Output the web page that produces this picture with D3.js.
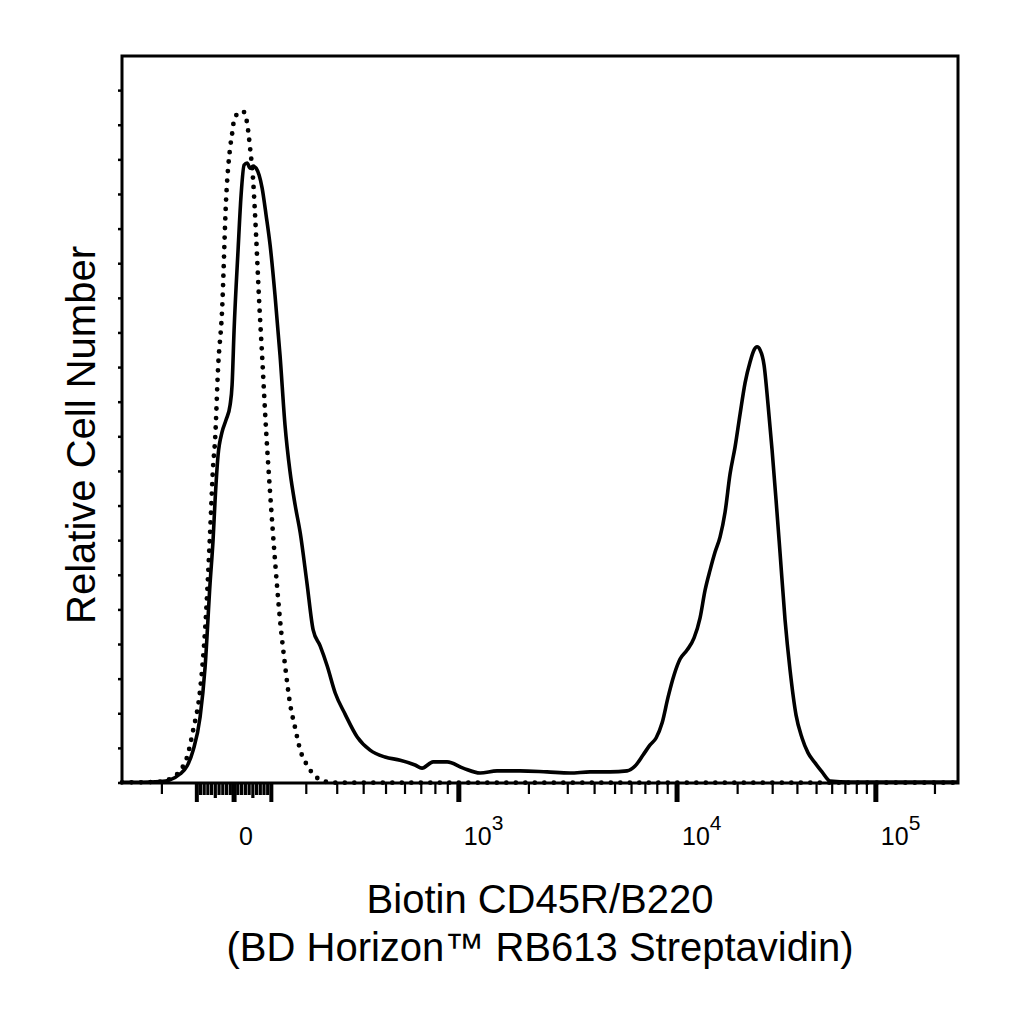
<!DOCTYPE html>
<html>
<head>
<meta charset="utf-8">
<script src="https://cdn.jsdelivr.net/npm/d3@7"></script>
<style>
  body { margin: 0; background: #fff; }
  svg { display: block; }
</style>
</head>
<body>
<div id="chart"></div>
<script>
// fluorescence values (channel)
const channel = [-332, -269, -205, -176, -147, -127, -110, -91, -77.5, -64, -56, -50.6, -42.6, -31.9, -21.3, -10.6, -5.3,
  0, 10.6, 18.6, 26.6, 34.6, 42.6, 50.6, 58.6, 66.7, 74.8, 85.6, 96.6, 110, 124, 138, 152, 167, 182, 202, 221, 243, 266,
  293, 328, 374, 427, 495, 573, 660, 705, 783, 894, 1042, 1228, 1451, 1828, 2413, 3074, 3808, 4735, 5710, 6240, 6821,
  7377, 7892, 8442, 9033, 9667, 10347, 11203, 12134, 12994, 13759, 14569, 15429, 16341, 17310, 18331, 19421, 20573,
  21793, 23090, 24183, 25041, 25925, 27154, 28441, 29790, 31202, 32688, 34638, 36715, 39366, 42211, 45266, 49115,
  53288, 58503, 73921, 132915, 262144];

// stained sample (solid line)
const stained = [0.2, 0.2, 0.4, 0.9, 2.6, 4.9, 9.5, 19.1, 33.5, 57.8, 70.2, 81.7, 94.7, 101.4, 104.9, 109.2, 115.0,
  130.8, 154.0, 169.8, 178.5, 179.1, 177.6, 178.2, 177.6, 175.6, 171.9, 164.1, 155.4, 141.0, 123.6, 103.4, 90.1, 80.3,
  72.2, 57.8, 44.2, 39.6, 33.8, 26.0, 19.9, 13.3, 9.5, 7.5, 6.6, 5.2, 4.3, 6.1, 6.1, 4.3, 2.9, 3.5, 3.5, 3.2, 2.9, 3.2,
  3.2, 3.5, 4.9, 8.1, 11.0, 13.0, 17.3, 24.8, 31.2, 35.8, 38.4, 41.9, 47.7, 55.7, 61.5, 66.7, 71.1, 78.3, 89.3, 97.1,
  106.6, 115.6, 121.6, 125.1, 126.0, 125.1, 120.7, 109.2, 96.2, 81.7, 66.4, 47.1, 32.6, 19.6, 13.0, 8.7, 5.8, 3.2,
  0.6, 0.3, 0.3, 0.3];

// isotype / unstained control (dotted line)
const control = [0.2, 0.2, 0.4, 1.2, 3.5, 7.5, 15.3, 26.9, 44.2, 72.2, 91.3, 99.1, 119.9, 136.6, 168.4, 183.4, 187.5,
  191.5, 193.5, 194.1, 193.8, 190.6, 183.4, 174.2, 158.3, 139.5, 123.6, 102.0, 83.8, 64.4, 47.1, 34.1, 23.1, 15.9,
  9.5, 5.2, 2.6, 0.9, 0.3, 0.1, 0.1, 0.1, 0.1, 0.1, 0.1, 0.1, 0.1, 0.1, 0.1, 0.1, 0.1, 0.1, 0.1, 0.1, 0.1, 0.1, 0.1,
  0.1, 0.1, 0.1, 0.1, 0.1, 0.1, 0.1, 0.1, 0.1, 0.1, 0.1, 0.1, 0.1, 0.1, 0.1, 0.1, 0.1, 0.1, 0.1, 0.1, 0.1, 0.1, 0.1,
  0.1, 0.1, 0.1, 0.1, 0.1, 0.1, 0.1, 0.1, 0.1, 0.1, 0.1, 0.1, 0.1, 0.1, 0.1, 0.1, 0.1, 0.1];

// axis ticks
const majorTicks = [0, 1000, 10000, 100000];
const majorLabels = [["0", ""], ["10", "3"], ["10", "4"], ["10", "5"]];
const midTicks = [-100, 100];
const nearZeroTicks = [-90, -80, -70, -60, -50, -40, -30, -20, -10, 10, 20, 30, 40, 50, 60, 70, 80, 90];
const smallTicks = [-200, 200, 300, 400, 500, 600, 700, 800, 900,
  2000, 3000, 4000, 5000, 6000, 7000, 8000, 9000,
  20000, 30000, 40000, 50000, 60000, 70000, 80000, 90000, 200000];
const yTicks = [0, 10, 20, 30, 40, 50, 60, 70, 80, 90, 100, 110, 120, 130, 140, 150, 160, 170, 180, 190, 200];

const xLabel1 = "Biotin CD45R/B220";
const xLabel2 = "(BD Horizon\u2122 RB613 Streptavidin)";
const yLabel = "Relative Cell Number";

// ---- logicle (biexponential) display transform
const T = 262144, M = 4.5, W = 0.8;
const xMin = -332, xMax = T;
const wN = W * Math.LN10, mN = M * Math.LN10;
let plo = 1.0001, phi = 50;
for (let i = 0; i < 80; i++) {
  let mid = (plo + phi) / 2;
  if (2 * mid * Math.log(mid) / (mid + 1) < wN) plo = mid; else phi = mid;
}
const p = (plo + phi) / 2;
const K = T * Math.exp(-(mN - wN));
function S(u) {
  if (u < 0) return -S(-u);
  return K * (Math.exp(u) - p * p * Math.exp(-u / p) + p * p - 1);
}
function logicle(v) {
  let a = -12, b = 15;
  for (let i = 0; i < 90; i++) {
    let mid = (a + b) / 2;
    if (S(mid) < v) a = mid; else b = mid;
  }
  return (a + b) / 2 / Math.LN10;
}

const width = 1024, height = 1024;
const margin = {left: 122, right: 66, top: 56, bottom: 241};

const xScale = d3.scaleLinear()
  .domain([logicle(xMin), logicle(xMax)])
  .range([margin.left, width - margin.right]);
const X = v => xScale(logicle(v));

const yScale = d3.scaleLinear()
  .domain([0, 210])
  .range([height - margin.bottom, margin.top]);

const svg = d3.select("#chart").append("svg")
  .attr("width", width)
  .attr("height", height)
  .style("font-family", "'Liberation Sans', Arial, sans-serif");

const y0 = yScale(0);

const linegen = d3.line()
  .x((d, i) => X(channel[i]))
  .y(d => yScale(d))
  .curve(d3.curveMonotoneX);

// control, dotted
svg.append("path")
  .attr("d", linegen(control))
  .attr("fill", "none")
  .attr("stroke", "#000")
  .attr("stroke-width", 4.8)
  .attr("stroke-linecap", "round")
  .attr("stroke-dasharray", "0 9.5");

// stained, solid
svg.append("path")
  .attr("d", linegen(stained))
  .attr("fill", "none")
  .attr("stroke", "#000")
  .attr("stroke-width", 3.6)
  .attr("stroke-linejoin", "round");

// frame
svg.append("rect")
  .attr("x", margin.left)
  .attr("y", margin.top)
  .attr("width", width - margin.left - margin.right)
  .attr("height", height - margin.top - margin.bottom)
  .attr("fill", "none")
  .attr("stroke", "#000")
  .attr("stroke-width", 3);

// y ticks (no labels)
svg.append("g").selectAll("line").data(yTicks).join("line")
  .attr("x1", margin.left - 4).attr("x2", margin.left)
  .attr("y1", d => yScale(d)).attr("y2", d => yScale(d))
  .attr("stroke", "#000").attr("stroke-width", 2.5);

// x ticks
const xt = svg.append("g");
xt.selectAll(".small").data(smallTicks).join("line")
  .attr("x1", d => X(d)).attr("x2", d => X(d))
  .attr("y1", y0).attr("y2", y0 + 11)
  .attr("stroke", "#000").attr("stroke-width", 2.2);
xt.selectAll(".zero").data(nearZeroTicks).join("line")
  .attr("x1", d => X(d)).attr("x2", d => X(d))
  .attr("y1", y0).attr("y2", d => y0 + (Math.abs(d) === 50 ? 15 : 12))
  .attr("stroke", "#000").attr("stroke-width", 3.2);
xt.selectAll(".mid").data(midTicks).join("line")
  .attr("x1", d => X(d)).attr("x2", d => X(d))
  .attr("y1", y0).attr("y2", y0 + 19)
  .attr("stroke", "#000").attr("stroke-width", 4);
xt.selectAll(".major").data(majorTicks).join("line")
  .attr("x1", d => X(d)).attr("x2", d => X(d))
  .attr("y1", y0).attr("y2", y0 + 19)
  .attr("stroke", "#000").attr("stroke-width", 5);

// x tick labels
majorTicks.forEach((v, i) => {
  const t = svg.append("text")
    .attr("x", X(v) + 5)
    .attr("y", 845)
    .attr("font-size", 25)
    .attr("fill", "#000");
  t.append("tspan").text(majorLabels[i][0]);
  if (majorLabels[i][1]) {
    t.append("tspan")
      .attr("dy", -15)
      .attr("font-size", 21)
      .text(majorLabels[i][1]);
  }
});

// axis titles
svg.append("text")
  .attr("x", (margin.left + width - margin.right) / 2)
  .attr("y", 913)
  .attr("text-anchor", "middle")
  .attr("font-size", 40)
  .text(xLabel1);
svg.append("text")
  .attr("x", (margin.left + width - margin.right) / 2)
  .attr("y", 961)
  .attr("text-anchor", "middle")
  .attr("font-size", 40)
  .text(xLabel2);
svg.append("text")
  .attr("transform", "translate(95,435) rotate(-90)")
  .attr("text-anchor", "middle")
  .attr("font-size", 40)
  .text(yLabel);
</script>
</body>
</html>
